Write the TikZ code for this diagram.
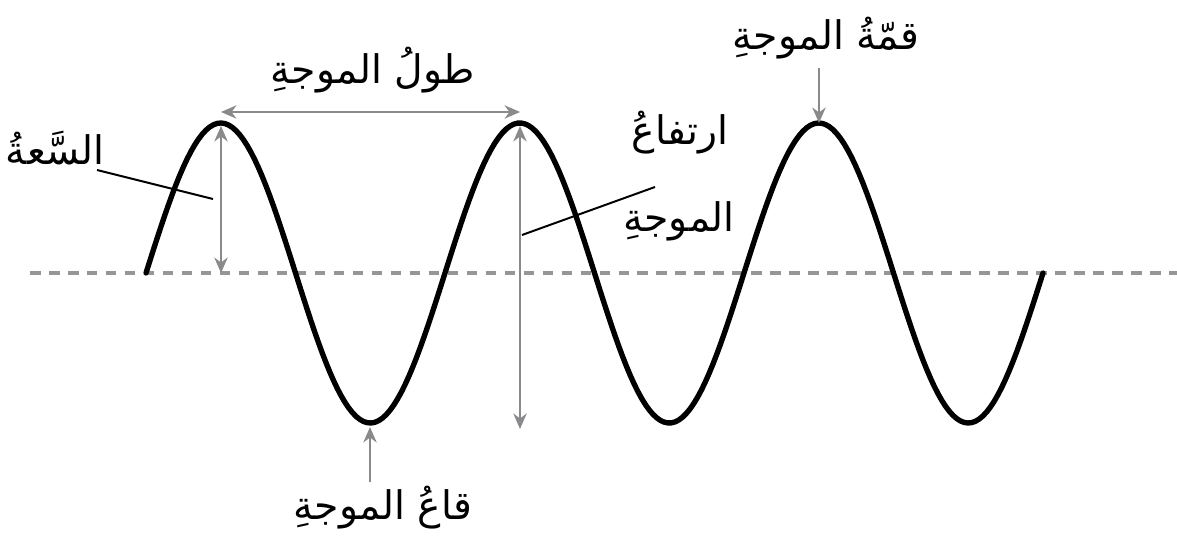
\documentclass[tikz,border=0pt]{standalone}
\usepackage{fontspec}
\newfontfamily\arabicfont[Script=Arabic]{DejaVu Sans}
\TeXXeTstate=1
\usetikzlibrary{arrows.meta}
\definecolor{arrgray}{RGB}{138,138,140}
\definecolor{dashgray}{RGB}{150,150,150}
\tikzset{
  wave/.style={line width=3.8pt, black, line cap=round},
  axisline/.style={line width=3.4pt, dashgray, dash pattern=on 7.5pt off 6pt},
  dimarrow/.style={line width=1.5pt, arrgray, {Stealth[length=11pt,width=9.5pt,inset=3.5pt]}-{Stealth[length=11pt,width=9.5pt,inset=3.5pt]}},
  ptarrow/.style={line width=1.5pt, arrgray, -{Stealth[length=11pt,width=9.5pt,inset=3.5pt]}},
  leader/.style={line width=1.4pt, black},
  lbl/.style={inner sep=0pt, font=\arabicfont\fontsize{28}{32}\selectfont}
}
\begin{document}
\begin{tikzpicture}[x=0.025cm, y=-0.025cm]
\useasboundingbox (0,0) rectangle (1177,543);
% centre line
\coordinate (axL) at (30,273);
\coordinate (axR) at (1177,273);
\draw[axisline] (axL) -- (axR);
% wave
\draw[wave] plot[domain=146:1043, samples=240] (\x, {273 - 150*sin((\x-146)/299*360)});
% key points
\coordinate (peak1) at (221,126);
\coordinate (peak2) at (520,126);
\coordinate (peak3) at (819,123);
\coordinate (trough1) at (370,427);
\coordinate (troughlvl) at (520,429);
\coordinate (mid1) at (221,273);
\coordinate (wlL) at (221,112);
\coordinate (wlR) at (520,112);
% labels
\node[lbl] (amp) at (55,148) {\beginR السَّعةُ\endR};
\node[lbl] (wlen) at (373,70) {\beginR طولُ الموجةِ\endR};
\node[lbl] (htop) at (680,133) {\beginR ارتفاعُ\endR};
\node[lbl] (hbot) at (679,221) {\beginR الموجةِ\endR};
\node[lbl] (crest) at (826,38) {\beginR قمّةُ الموجةِ\endR};
\node[lbl] (trough) at (383,508) {\beginR قاعُ الموجةِ\endR};
% dimension arrows
\draw[dimarrow] (mid1) -- (peak1);
\draw[dimarrow] (wlL) -- (wlR);
\draw[dimarrow] (troughlvl) -- (peak2);
\coordinate (crestS) at (819,68);
\coordinate (troughS) at (370,482);
\draw[ptarrow] (crestS) -- (peak3);
\draw[ptarrow] (troughS) -- (trough1);
% leader lines
\coordinate (ampA) at (97,170);
\coordinate (ampB) at (213,199);
\draw[leader] (ampA) -- (ampB);
\coordinate (hA) at (522,235);
\coordinate (hB) at (655,187);
\draw[leader] (hA) -- (hB);
\end{tikzpicture}
\end{document}
